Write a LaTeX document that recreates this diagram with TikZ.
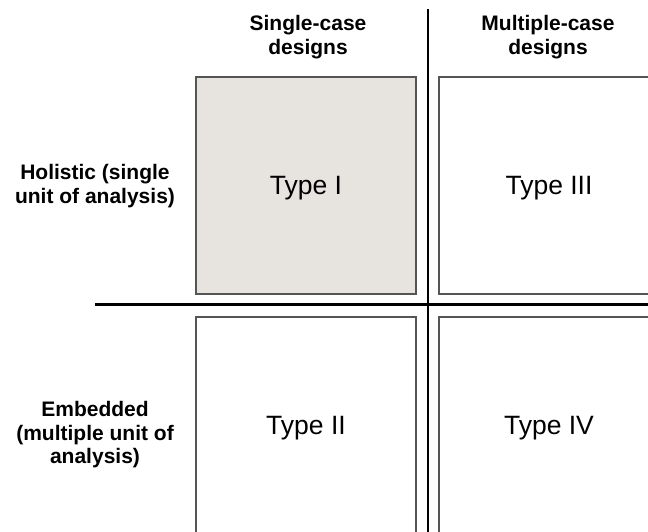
\documentclass[tikz,border=0pt]{standalone}
\usepackage{fontspec}
\setmainfont{Liberation Sans}
\definecolor{cellfill}{RGB}{231,227,223}
\definecolor{cellline}{RGB}{85,85,85}
\begin{document}
\begin{tikzpicture}[x=1pt,y=-1pt,
  cell/.style={draw=cellline, line width=1.3pt, minimum width=220pt, minimum height=217pt,
    inner sep=0pt, font=\fontsize{26.5}{30}\selectfont, text depth=0pt},
  head/.style={align=center, inner sep=0pt, font=\fontsize{21}{23.5}\selectfont\bfseries},
  divider/.style={line width=2.6pt, black}]
  \useasboundingbox (0,0) rectangle (648,532);
  \clip (0,0) rectangle (648,532);

  % column headings
  \node[head] (single) at (308,37) {Single-case\\designs};
  \node[head] (multiple) at (548,37) {Multiple-case\\designs};

  % row headings
  \node[head] (holistic) at (95,186) {Holistic (single\\unit of analysis)};
  \node[head] (embedded) at (95,435) {Embedded\\(multiple unit of\\analysis)};

  % the four design types
  \node[cell, fill=cellfill] (t1) at (306,185.5) {Type I};
  \node[cell] (t3) at (549,185.5) {Type III};
  \node[cell] (t2) at (306,425.5) {Type II};
  \node[cell] (t4) at (549,425.5) {Type IV};

  % dividing lines
  \coordinate (vtop) at (428,9);
  \coordinate (vbot) at (428,540);
  \coordinate (hleft) at (95,304.5);
  \coordinate (hright) at (660,304.5);
  \draw[divider] (vtop) -- (vbot);
  \draw[divider] (hleft) -- (hright);
\end{tikzpicture}
\end{document}
